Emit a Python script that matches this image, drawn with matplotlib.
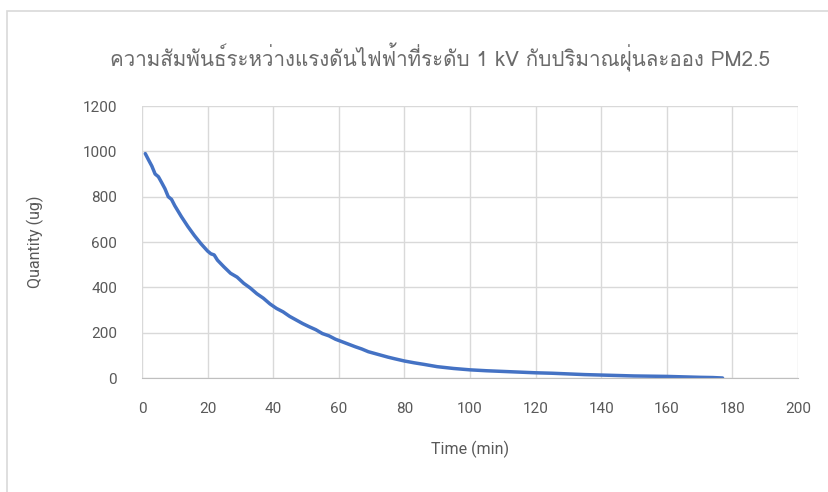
import matplotlib
matplotlib.use("Agg")
import matplotlib.pyplot as plt
from matplotlib import font_manager
from matplotlib.ft2font import FT2Font
from matplotlib.patches import Rectangle

# ==========================================
# Data
# ==========================================
time_min = [1, 2, 3, 4, 5, 6, 7, 8, 9, 10, 12, 14, 16, 18, 20, 21, 22, 23, 25, 27, 29,
            31, 33, 35, 37, 39, 41, 43, 45, 47, 49, 51, 53, 55, 57, 59, 61, 63, 65,
            67, 69, 71, 73, 75, 77, 80, 83, 86, 90, 95, 100, 105, 110, 115, 120,
            125, 130, 135, 140, 145, 150, 155, 160, 165, 170, 174, 177]
quantity_ug = [990, 962, 935, 900, 888, 862, 835, 800, 788, 760, 712, 668, 628, 592,
               560, 548, 543, 520, 490, 462, 445, 418, 397, 372, 352, 327, 307, 292,
               272, 256, 240, 226, 213, 196, 186, 171, 160, 149, 138, 128, 116, 108,
               100, 92, 85, 75, 67, 60, 50, 42, 36, 32, 29, 26, 23, 21, 18, 15, 13,
               11, 9, 8, 7, 5, 3, 2, 0]

x_ticks = [0, 20, 40, 60, 80, 100, 120, 140, 160, 180, 200]
y_ticks = [0, 200, 400, 600, 800, 1000, 1200]

TITLE = "ความสัมพันธ์ระหว่างแรงดันไฟฟ้าที่ระดับ 1 kV กับปริมาณฝุ่นละออง PM2.5"
X_LABEL = "Time (min)"
Y_LABEL = "Quantity (ug)"

TEXT_COLOR = "#595959"
GRID_COLOR = "#D9D9D9"
LINE_COLOR = "#4472C4"


def find_thai_font():
    """Returns the name of an installed font that has Thai glyphs, if any."""
    for f in font_manager.fontManager.ttflist:
        try:
            if 0x0E01 in FT2Font(f.fname).get_charmap():
                return f.name
        except Exception:
            pass
    return None


names = {f.name for f in font_manager.fontManager.ttflist}
latin = "Roboto" if "Roboto" in names else "DejaVu Sans"
plt.rcParams['font.family'] = [latin, 'DejaVu Sans']

thai = find_thai_font()
title_family = ([thai] if thai else []) + [latin, 'DejaVu Sans']

fig = plt.figure(figsize=(8.29, 4.92), dpi=100)
fig.patch.set_facecolor("white")

# light chart-area frame like the Excel chart box
fig.patches.append(Rectangle((7 / 829, -0.05), 1.0, 1.05 - 11 / 492,
                             transform=fig.transFigure, fill=False,
                             edgecolor=GRID_COLOR, linewidth=1.2))

ax = fig.add_axes([142 / 829, 1 - 378 / 492, 656 / 829, 272 / 492])
ax.plot(time_min, quantity_ug, color=LINE_COLOR, linewidth=2.5,
        solid_capstyle='round', solid_joinstyle='round')

ax.set_xlim(0, 200)
ax.set_ylim(0, 1200)
ax.set_xticks(x_ticks)
ax.set_yticks(y_ticks)
ax.grid(True, color=GRID_COLOR, linewidth=1.0)
ax.set_axisbelow(True)
for side in ['top', 'right', 'left']:
    ax.spines[side].set_visible(False)
ax.spines['bottom'].set_color("#BFBFBF")
ax.tick_params(length=0, labelsize=11, labelcolor=TEXT_COLOR)
ax.tick_params(axis='x', pad=17)
ax.tick_params(axis='y', pad=18)

ax.set_xlabel(X_LABEL, fontsize=11.5, color=TEXT_COLOR, labelpad=18)
ax.set_ylabel(Y_LABEL, fontsize=11.5, color=TEXT_COLOR, labelpad=28)

fig.text(440 / 829, 1 - 57 / 492, TITLE, ha='center', va='center',
         fontsize=14.8, color="#6b6b6b", family=title_family)

fig.savefig("out.png", dpi=100)
